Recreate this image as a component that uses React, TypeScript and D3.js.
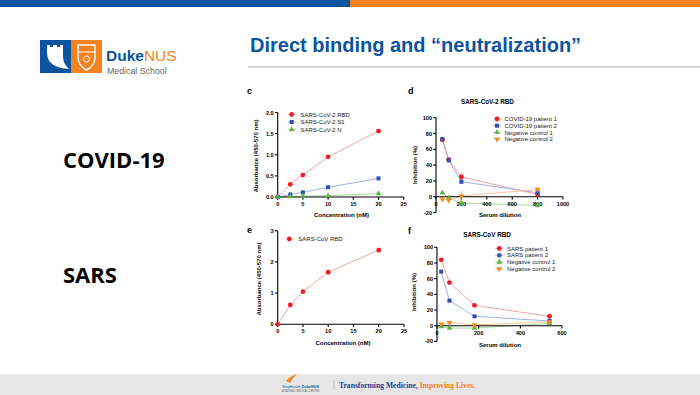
import React from "react";
import * as d3 from "d3";

// ---------- data ----------
const concC = [0, 2.5, 5, 10, 20];
const rbdC = [0, 0.3, 0.52, 0.95, 1.56];
const s1C = [0, 0.06, 0.11, 0.23, 0.44];
const nC = [0, 0.01, 0.02, 0.03, 0.08];
const legendC = ["SARS-CoV-2 RBD", "SARS-CoV-2 S1", "SARS-CoV-2 N"];

const dilD = [50, 100, 200, 800];
const p1D = [72, 47, 25, 3];
const p2D = [73, 46, 19, 5];
const n1D = [5, -2, -8, -11];
const n2D = [-3, -4, 1, 9];
const p1DErr = [2, 2, 4, 2];
const p2DErr = [2, 2, 2, 3];
const n1DErr = [1, 3, 2, 2];
const n2DErr = [2, 4, 5, 3];
const legendD = ["COVID-19 patient 1", "COVID-19 patient 2", "Negative control 1", "Negative control 2"];

const concE = [0, 2.5, 5, 10, 20];
const rbdE = [0, 0.62, 1.05, 1.67, 2.38];
const rbdEErr = [0, 0.04, 0.04, 0.06, 0.06];
const legendE = ["SARS-CoV RBD"];

const dilF = [20, 60, 180, 540];
const p1F = [84, 55, 26, 12];
const p2F = [69, 32, 12, 6];
const n1F = [-1, -3, -3, 3];
const n2F = [2, 4, 1, 5];
const p1FErr = [1, 1, 1, 2];
const p2FErr = [1, 1, 1, 2];
const n1FErr = [1, 1, 1, 1];
const n2FErr = [1, 2, 1, 1];
const legendF = ["SARS patient 1", "SARS patient 2", "Negative control 1", "Negative control 2"];

const concTicks = [0, 5, 10, 15, 20, 25];
const absTicksC = [0, 0.5, 1, 1.5, 2];
const absTicksE = [0, 1, 2, 3];
const inhTicks = [-20, 0, 20, 40, 60, 80, 100];
const dilTicksD = [0, 200, 400, 600, 800, 1000];
const dilTicksF = [0, 200, 400, 600];

// ---------- styles ----------
const FONT = "'Liberation Sans', Arial, sans-serif";
const STY = {
  red: { marker: "circle", fill: "#ee1c25", line: "#f29a9a" },
  blue: { marker: "square", fill: "#2f4fb5", line: "#94a8df" },
  green: { marker: "triangle", fill: "#58b947", line: "#9fd58f" },
  orange: { marker: "triangleDown", fill: "#f58a1f", line: "#f7bf8c" },
};

type Series = { xs: number[]; ys: number[]; err?: number[]; sty: any; label: string };

function Marker({ x, y, sty, s = 1 }: { x: number; y: number; sty: any; s?: number }) {
  let type: any = d3.symbolCircle;
  let size = 18 * s;
  let rot = 0;
  if (sty.marker === "square") { type = d3.symbolSquare; size = 16 * s; }
  if (sty.marker === "triangle") { type = d3.symbolTriangle; size = 14 * s; }
  if (sty.marker === "triangleDown") { type = d3.symbolTriangle; size = 14 * s; rot = 180; }
  const p = d3.symbol().type(type).size(size)() as string;
  return <path d={p} fill={sty.fill} transform={`translate(${x},${y}) rotate(${rot})`} />;
}

type PanelProps = {
  xr: [number, number]; xd: [number, number]; xTicks: number[]; xFmt: (v: number) => string;
  yr: [number, number]; yd: [number, number]; yTicks: number[]; yFmt: (v: number) => string;
  series: Series[];
  leg: { x: number; y: number; dy: number; tx: number };
  letter: { t: string; x: number; y: number };
  title?: { t: string; x: number; y: number };
  xlab: { t: string; x: number; y: number };
  ylab: { t: string; x: number; y: number };
  yAxisX?: number;
};

function Panel(p: PanelProps) {
  const x = d3.scaleLinear().domain(p.xd).range(p.xr);
  const y = d3.scaleLinear().domain(p.yd).range(p.yr);
  const ax = p.yAxisX ?? x(0);
  const ay = y(0);
  const line = d3.line<[number, number]>().x((d) => x(d[0])).y((d) => y(d[1]));
  return (
    <g fontFamily={FONT}>
      <text x={p.letter.x} y={p.letter.y} fontSize={9} fontWeight="bold">{p.letter.t}</text>
      {p.title && (
        <text x={p.title.x} y={p.title.y} fontSize={6.3} fontWeight="bold" textAnchor="middle">{p.title.t}</text>
      )}
      {p.series.map((s, i) => (
        <path key={"l" + i} d={line(s.xs.map((v, j) => [v, s.ys[j]]) as any) as string} fill="none" stroke={s.sty.line} strokeWidth={0.9} />
      ))}
      {p.series.map((s, i) =>
        (s.err || []).map((e, j) =>
          e > 0 ? (
            <g key={"e" + i + "-" + j} stroke={s.sty.line} strokeWidth={0.7}>
              <line x1={x(s.xs[j])} x2={x(s.xs[j])} y1={y(s.ys[j] - e)} y2={y(s.ys[j] + e)} />
              <line x1={x(s.xs[j]) - 2} x2={x(s.xs[j]) + 2} y1={y(s.ys[j] - e)} y2={y(s.ys[j] - e)} />
              <line x1={x(s.xs[j]) - 2} x2={x(s.xs[j]) + 2} y1={y(s.ys[j] + e)} y2={y(s.ys[j] + e)} />
            </g>
          ) : null
        )
      )}
      <g stroke="#000" strokeWidth={1.1}>
        <line x1={x(p.xd[0])} x2={x(p.xd[1])} y1={ay} y2={ay} />
        <line x1={ax} x2={ax} y1={y(p.yd[0])} y2={y(p.yd[1])} />
        {p.xTicks.map((t) => (
          <line key={"xt" + t} x1={x(t)} x2={x(t)} y1={ay} y2={ay + 2.8} />
        ))}
        {p.yTicks.map((t) => (
          <line key={"yt" + t} x1={ax - 2.8} x2={ax} y1={y(t)} y2={y(t)} />
        ))}
      </g>
      {p.xTicks.map((t) => (
        <text key={"xl" + t} x={x(t)} y={ay + 8.8} fontSize={5.6} fontWeight="bold" textAnchor="middle">{p.xFmt(t)}</text>
      ))}
      {p.yTicks.map((t) => (
        <text key={"yl" + t} x={ax - 4} y={y(t) + 2} fontSize={5.6} fontWeight="bold" textAnchor="end">{p.yFmt(t)}</text>
      ))}
      {p.series.map((s, i) =>
        s.xs.map((v, j) => <Marker key={"m" + i + "-" + j} x={x(v)} y={y(s.ys[j])} sty={s.sty} />)
      )}
      <text x={p.xlab.x} y={p.xlab.y} fontSize={6} fontWeight="bold" textAnchor="middle">{p.xlab.t}</text>
      <text transform={`translate(${p.ylab.x},${p.ylab.y}) rotate(-90)`} fontSize={6} fontWeight="bold" textAnchor="middle">{p.ylab.t}</text>
      {p.series.map((s, i) => (
        <g key={"lg" + i}>
          <line x1={p.leg.x - 4} x2={p.leg.x + 4} y1={p.leg.y + i * p.leg.dy} y2={p.leg.y + i * p.leg.dy} stroke={s.sty.line} strokeWidth={0.9} />
          <Marker x={p.leg.x} y={p.leg.y + i * p.leg.dy} sty={s.sty} />
          <text x={p.leg.tx} y={p.leg.y + i * p.leg.dy + 2.1} fontSize={6} fill="#222">{s.label}</text>
        </g>
      ))}
    </g>
  );
}

const fmt1 = d3.format(".1f");
const fmt0 = (v: number) => String(v);

export default function App() {
  return (
    <svg width={700} height={395} style={{ position: "absolute", left: 0, top: 0 }}>
      <rect x={0} y={0} width={700} height={395} fill="#fff" />
      <rect x={0} y={0} width={350} height={7} fill="#0a54a0" />
      <rect x={350} y={0} width={350} height={7} fill="#f58220" />
      {/* logo */}
      <rect x={40} y={40} width={31} height={33} fill="#0a54a0" />
      <path d="M47 45 L50 45 L50 47 L53 47 L53 45 L57 45 L57 47 L60 47 L60 45 L63 45 L63 56 Q63 64 69 69 Q55 68 50 62 Q47 58 47 52 Z" fill="#fff" />
      <rect x={71} y={40} width={31} height={33} fill="#f58220" />
      <path d="M78 45 L95 45 L95 57 Q95 66 86.5 70 Q78 66 78 57 Z" fill="none" stroke="#fff" strokeWidth={1.4} />
      <line x1={78} y1={52} x2={95} y2={52} stroke="#fff" strokeWidth={1} />
      <circle cx={86.5} cy={59} r={3} fill="none" stroke="#fff" strokeWidth={1} />
      <text x={106} y={61} fontFamily={FONT} fontSize={15.5} fontWeight="bold" fill="#0a54a0">Duke<tspan fill="#f58220" fontWeight="normal">NUS</tspan></text>
      <text x={107} y={74} fontFamily={FONT} fontSize={8.8} fill="#666">Medical School</text>
      {/* title */}
      <text x={250} y={52} fontFamily={FONT} fontSize={20} fontWeight="bold" fill="#0a54a0">Direct binding and “neutralization”</text>
      <rect x={248} y={66} width={452} height={2} fill="#d9d9d9" />
      {/* row labels */}
      <text x={63} y={168} fontFamily="'Open Sans', 'Liberation Sans', sans-serif" fontSize={22} fontWeight="bold" fill="#000">COVID-19</text>
      <text x={63} y={283} fontFamily="'Open Sans', 'Liberation Sans', sans-serif" fontSize={22} fontWeight="bold" fill="#000">SARS</text>

      <Panel
        xr={[277.7, 403.7]} xd={[0, 25]} xTicks={concTicks} xFmt={fmt0}
        yr={[197, 112.5]} yd={[0, 2]} yTicks={absTicksC} yFmt={fmt1}
        series={[
          { xs: concC, ys: rbdC, sty: STY.red, label: legendC[0] },
          { xs: concC, ys: s1C, sty: STY.blue, label: legendC[1] },
          { xs: concC, ys: nC, sty: STY.green, label: legendC[2] },
        ]}
        leg={{ x: 291.7, y: 114.5, dy: 7.5, tx: 300.5 }}
        letter={{ t: "c", x: 247, y: 94 }}
        xlab={{ t: "Concentration (nM)", x: 341.5, y: 217 }}
        ylab={{ t: "Absorbance (450-570 nm)", x: 258, y: 156 }}
      />
      <Panel
        xr={[436, 563]} xd={[0, 1000]} xTicks={dilTicksD} xFmt={fmt0}
        yr={[212.5, 117.7]} yd={[-20, 100]} yTicks={inhTicks} yFmt={fmt0}
        series={[
          { xs: dilD, ys: p1D, err: p1DErr, sty: STY.red, label: legendD[0] },
          { xs: dilD, ys: p2D, err: p2DErr, sty: STY.blue, label: legendD[1] },
          { xs: dilD, ys: n1D, err: n1DErr, sty: STY.green, label: legendD[2] },
          { xs: dilD, ys: n2D, err: n2DErr, sty: STY.orange, label: legendD[3] },
        ]}
        leg={{ x: 497, y: 119, dy: 6.7, tx: 504.5 }}
        letter={{ t: "d", x: 408, y: 94 }}
        title={{ t: "SARS-CoV-2 RBD", x: 487.5, y: 104 }}
        xlab={{ t: "Serum dilution", x: 500, y: 217 }}
        ylab={{ t: "Inhibition (%)", x: 417, y: 165 }}
      />
      <Panel
        xr={[277.7, 404]} xd={[0, 25]} xTicks={concTicks} xFmt={fmt0}
        yr={[324.3, 230.7]} yd={[0, 3]} yTicks={absTicksE} yFmt={fmt0}
        series={[{ xs: concE, ys: rbdE, err: rbdEErr, sty: STY.red, label: legendE[0] }]}
        leg={{ x: 289.3, y: 239, dy: 7, tx: 298.3 }}
        letter={{ t: "e", x: 247, y: 233 }}
        xlab={{ t: "Concentration (nM)", x: 343, y: 345 }}
        ylab={{ t: "Absorbance (450-570 nm)", x: 261, y: 279 }}
      />
      <Panel
        xr={[437, 562]} xd={[0, 600]} xTicks={dilTicksF} xFmt={fmt0}
        yr={[341.4, 247.3]} yd={[-20, 100]} yTicks={inhTicks} yFmt={fmt0}
        series={[
          { xs: dilF, ys: p1F, err: p1FErr, sty: STY.red, label: legendF[0] },
          { xs: dilF, ys: p2F, err: p2FErr, sty: STY.blue, label: legendF[1] },
          { xs: dilF, ys: n1F, err: n1FErr, sty: STY.green, label: legendF[2] },
          { xs: dilF, ys: n2F, err: n2FErr, sty: STY.orange, label: legendF[3] },
        ]}
        leg={{ x: 499.3, y: 248.5, dy: 6.8, tx: 507 }}
        letter={{ t: "f", x: 408, y: 234 }}
        title={{ t: "SARS-CoV RBD", x: 487, y: 237 }}
        xlab={{ t: "Serum dilution", x: 500, y: 347 }}
        ylab={{ t: "Inhibition (%)", x: 416, y: 292 }}
      />

      {/* footer */}
      <rect x={0} y={375} width={700} height={20} fill="#e6e6e6" />
      <rect x={0} y={374} width={700} height={1} fill="#f0f0f0" />
      <path d="M286 381 Q290 376 297 374 Q292 378 290 383 Z" fill="#f58220" />
      <text x={282} y={387.5} fontFamily={FONT} fontSize={3.8} fill="#0a54a0">SingHealth <tspan fontWeight="bold">DukeNUS</tspan></text>
      <text x={282} y={391.5} fontFamily={FONT} fontSize={2.6} fill="#666">ACADEMIC MEDICAL CENTRE</text>
      <line x1={334} x2={334} y1={380} y2={389} stroke="#9aa" strokeWidth={0.6} />
      <text x={339} y={388} fontFamily="'Liberation Serif', 'DejaVu Serif', serif" fontSize={7.6} fontWeight="bold" fill="#1f3f94">Transforming Medicine, <tspan fill="#f58220">Improving Lives.</tspan></text>
    </svg>
  );
}
